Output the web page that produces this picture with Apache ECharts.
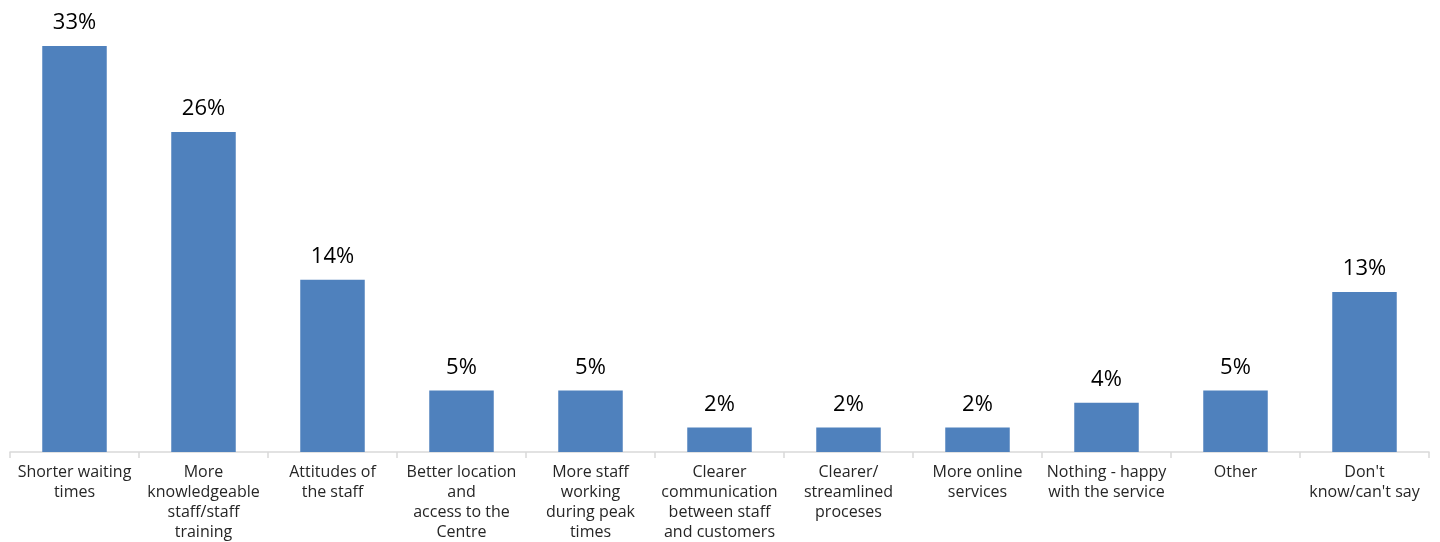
<!DOCTYPE html>
<html>
<head>
<meta charset="utf-8">
<script src="https://cdn.jsdelivr.net/npm/echarts@6/dist/echarts.min.js"></script>
<style>
  html, body { margin: 0; padding: 0; background: #ffffff; }
  #chart { width: 1440px; height: 542px; }
</style>
</head>
<body>
<div id="chart"></div>
<script>
// Suggested improvements to the Centre's service, share of respondents (%)
const categories = [
  'Shorter waiting\ntimes',
  'More\nknowledgeable\nstaff/staff\ntraining',
  'Attitudes of\nthe staff',
  'Better location\nand\naccess to the\nCentre',
  'More staff\nworking\nduring peak\ntimes',
  'Clearer\ncommunication\nbetween staff\nand customers',
  'Clearer/\nstreamlined\nproceses',
  'More online\nservices',
  'Nothing - happy\nwith the service',
  'Other',
  "Don't\nknow/can't say"
];
const shares = [33, 26, 14, 5, 5, 2, 2, 2, 4, 5, 13];

const chart = echarts.init(document.getElementById('chart'), null, { renderer: 'canvas' });
const fontFamily = '"Open Sans", "Noto Sans", sans-serif';

chart.setOption({
  animation: false,
  backgroundColor: '#ffffff',
  grid: { left: 10, right: 11, top: 9, bottom: 90, containLabel: false },
  xAxis: {
    type: 'category',
    data: categories,
    axisLine: { show: true, lineStyle: { color: '#d9d9d9', width: 1.5 } },
    axisTick: { show: true, alignWithLabel: false, length: 6, lineStyle: { color: '#d9d9d9', width: 1.5 } },
    axisLabel: {
      interval: 0,
      color: '#262626',
      fontFamily: fontFamily,
      fontSize: 16,
      lineHeight: 20,
      margin: 10,
      align: 'center'
    }
  },
  yAxis: {
    type: 'value',
    min: 0,
    max: 36,
    show: false,
    splitLine: { show: false }
  },
  series: [{
    type: 'bar',
    data: shares,
    barCategoryGap: '50%',
    itemStyle: { color: '#4f81bd' },
    label: {
      show: true,
      position: 'top',
      distance: 12,
      formatter: '{c}%',
      color: '#000000',
      fontFamily: fontFamily,
      fontSize: 22
    }
  }]
});
</script>
</body>
</html>
